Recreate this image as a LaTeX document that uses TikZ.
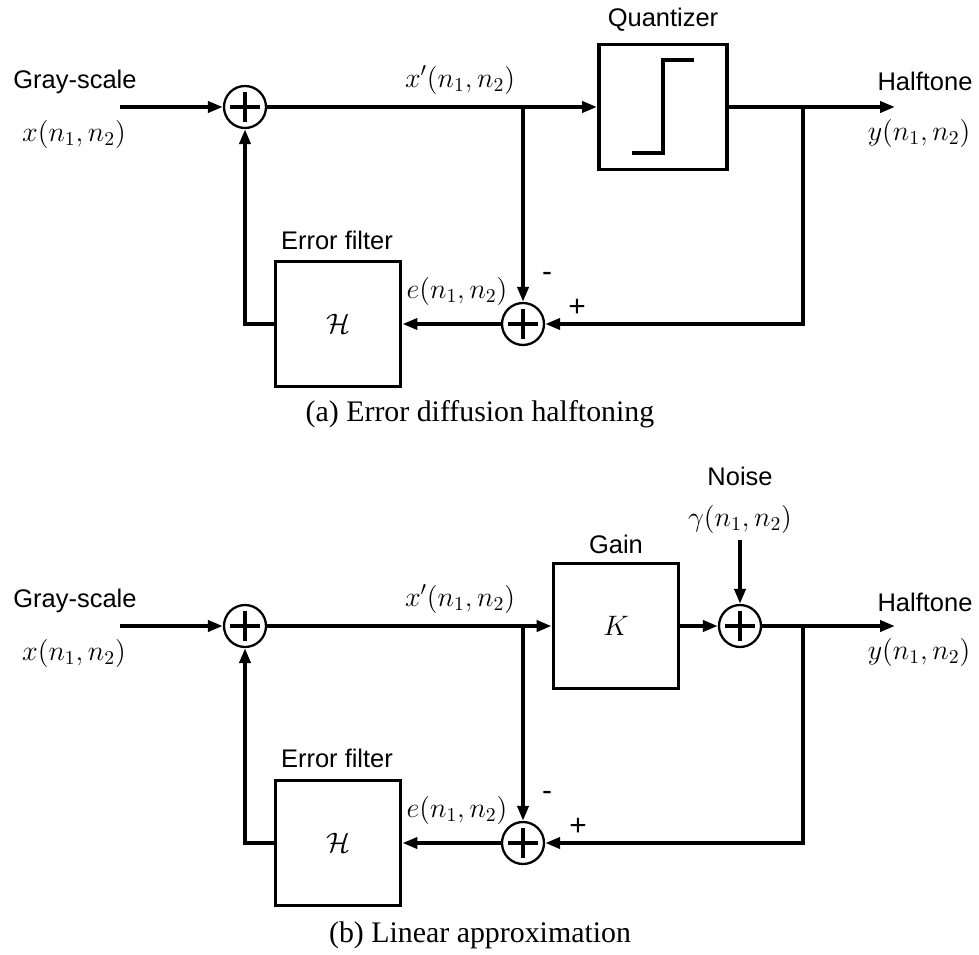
\documentclass[tikz,border=0pt]{standalone}
\usepackage{fix-cm}
\usepackage[no-math]{fontspec}
\newfontfamily\lblfont{Liberation Sans}
\newfontfamily\capfont{Liberation Serif}
\usetikzlibrary{arrows.meta}

\begin{document}
\begin{tikzpicture}[
    x=0.02cm, y=-0.02cm,
    sig/.style={line width=2.2pt},
    arr/.style={sig, -{Triangle[length=3mm, width=2.2mm]}},
    lbl/.style={font=\fontsize{14.5}{17}\lblfont},
    sgn/.style={font=\fontsize{17}{20}\lblfont},
    var/.style={font=\fontsize{16}{19}\selectfont},
    caption/.style={font=\fontsize{17}{20}\capfont},
    block/.style={rectangle, draw, line width=2.2pt, minimum width=2.5cm, minimum height=2.5cm, inner sep=0pt, var},
    summer/.style={circle, draw, line width=1.3pt, minimum size=0.84cm, inner sep=0pt,
        path picture={
            \draw[line width=2.2pt] ([xshift=-0.3cm]path picture bounding box.center) -- ([xshift=0.3cm]path picture bounding box.center);
            \draw[line width=2.2pt] ([yshift=-0.3cm]path picture bounding box.center) -- ([yshift=0.3cm]path picture bounding box.center);}},
]
\useasboundingbox (0,0) rectangle (979,955);

% --- (a) Error diffusion ---
\node[summer] (sumA1) at (245,107) {};
\node[summer] (sumA2) at (523,324) {};
\node[block, minimum width=2.56cm] (quant) at (663,107) {};
\node[block] (filtA) at (338,324) {$\mathcal{H}$};
\draw[sig, shift={(quant.center)}] (-31,46) -- (0,46) -- (0,-47) -- (31,-47);

\coordinate (inA) at (120,107);
\coordinate (brA) at (523,107);
\coordinate (fbA) at (803,107);
\coordinate (outA) at (895,107);

\node[lbl] (grayA) at (75,82) {Gray-scale};
\node[var] (xA) at (74,134) {$x(n_1,n_2)$};
\node[var] (xpA) at (460,80) {$x'(n_1,n_2)$};
\node[lbl] (quantlbl) at (663,20) {Quantizer};
\node[lbl] (halfA) at (925,81) {Halftone};
\node[var] (yA) at (919,133) {$y(n_1,n_2)$};
\node[lbl] (filtAlbl) at (337,240) {Error filter};
\node[var] (eA) at (457,291) {$e(n_1,n_2)$};
\node[sgn] (minusA) at (547,277) {-};
\node[sgn] (plusA) at (577,308) {+};

\draw[arr] (inA) -- (sumA1);
\draw[arr] (sumA1) -- (quant);
\draw[arr] (quant) -- (outA);
\draw[arr] (brA) -- (sumA2);
\draw[arr] (fbA) |- (sumA2);
\draw[arr] (sumA2) -- (filtA);
\draw[arr] (filtA.west) -| (sumA1.south);

\node[caption] (capA) at (480,414) {(a) Error diffusion halftoning};

% --- (b) Linear approximation ---
\node[summer] (sumB1) at (245,626) {};
\node[summer] (sumB2) at (523,843) {};
\node[summer] (sumB3) at (740,626) {};
\node[block] (gain) at (616,626) {$K$};
\node[block] (filtB) at (338,843) {$\mathcal{H}$};

\coordinate (inB) at (120,626);
\coordinate (brB) at (523,626);
\coordinate (fbB) at (803,626);
\coordinate (outB) at (895,626);
\coordinate (noise) at (740,540);

\node[lbl] (grayB) at (75,601) {Gray-scale};
\node[var] (xB) at (74,653) {$x(n_1,n_2)$};
\node[var] (xpB) at (460,599) {$x'(n_1,n_2)$};
\node[lbl] (gainlbl) at (616,544) {Gain};
\node[lbl] (noiselbl) at (740,476) {Noise};
\node[var] (gammaB) at (740,519) {$\gamma(n_1,n_2)$};
\node[lbl] (halfB) at (925,602) {Halftone};
\node[var] (yB) at (919,652) {$y(n_1,n_2)$};
\node[lbl] (filtBlbl) at (337,758) {Error filter};
\node[var] (eB) at (457,810) {$e(n_1,n_2)$};
\node[sgn] (minusB) at (547,796) {-};
\node[sgn] (plusB) at (578,827) {+};

\draw[arr] (inB) -- (sumB1);
\draw[arr] (sumB1) -- (gain);
\draw[arr] (gain) -- (sumB3);
\draw[arr] (noise) -- (sumB3);
\draw[arr] (sumB3) -- (outB);
\draw[arr] (brB) -- (sumB2);
\draw[arr] (fbB) |- (sumB2);
\draw[arr] (sumB2) -- (filtB);
\draw[arr] (filtB.west) -| (sumB1.south);

\node[caption] (capB) at (480,935) {(b) Linear approximation};

\end{tikzpicture}
\end{document}
